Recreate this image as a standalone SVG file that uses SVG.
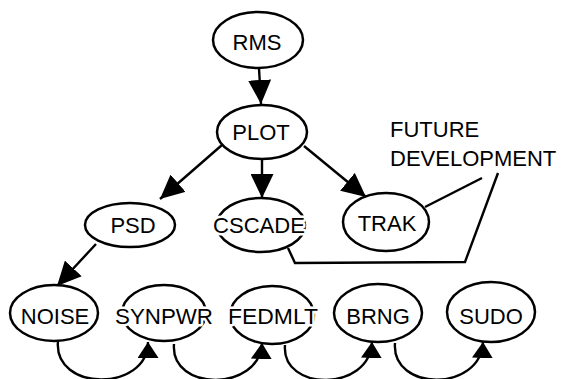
<svg xmlns="http://www.w3.org/2000/svg" width="564" height="379" viewBox="0 0 564 379">
<style>
.n ellipse{fill:#fff;stroke:#000;stroke-width:2.5}
.n text{font-family:"Liberation Sans",Arial,sans-serif;font-size:22px;text-anchor:middle;fill:#000;stroke:#fff;stroke-width:5;paint-order:stroke;stroke-linejoin:round}
.c path{fill:none;stroke:#000;stroke-width:2.4}
.a{marker-end:url(#ah)}
.b{marker-end:url(#ah2)}
.note{font-family:"Liberation Sans",Arial,sans-serif;font-size:22px;fill:#000}
</style>
<defs>
<marker id="ah" viewBox="0 0 24 23" markerWidth="24" markerHeight="23" refX="24" refY="11.5" orient="auto" markerUnits="userSpaceOnUse"><path d="M0,0 L24,11.5 L0,23 z" fill="#000"/></marker>
<marker id="ah2" viewBox="0 0 16 21" markerWidth="16" markerHeight="21" refX="16" refY="10.5" orient="auto" markerUnits="userSpaceOnUse"><path d="M0,0 L16,10.5 L0,21 z" fill="#000"/></marker>
</defs>
<rect width="564" height="379" fill="#fff"/>
<g class="c" id="connectors">
<path class="a" d="M259,68 L261,104"/>
<path class="a" d="M222,145 L160,199"/>
<path class="a" d="M262,159 L262,198"/>
<path class="a" d="M304,146 L366,197"/>
<path class="a" d="M96,244 L57,286"/>
<path class="b" d="M58,341 C53,392 148,392 148,342"/>
<path class="b" d="M174,344 C170,392 260,392 262,343"/>
<path class="b" d="M285,345 C281,392 370,392 372,342"/>
<path class="b" d="M395,343 C391,392 481,392 483,342"/>
<path d="M425,207 L482,178"/>
<path d="M498,173 L465,262 L295,263 L288,248"/>
</g>
<g class="n" id="RMS"><ellipse cx="258" cy="40" rx="45" ry="28"/><text x="257" y="50">RMS</text></g>
<g class="n" id="PLOT"><ellipse cx="262" cy="132" rx="45" ry="27"/><text x="261" y="140">PLOT</text></g>
<g class="n" id="PSD"><ellipse cx="130" cy="225" rx="45" ry="22"/><text x="133" y="233">PSD</text></g>
<g class="n" id="CSCADE"><ellipse cx="261" cy="225" rx="44" ry="27"/><text x="259" y="233" textLength="92" lengthAdjust="spacingAndGlyphs">CSCADE</text></g>
<g class="n" id="TRAK"><ellipse cx="386" cy="222" rx="43" ry="29"/><text x="387" y="231">TRAK</text></g>
<g class="n" id="NOISE"><ellipse cx="54" cy="313" rx="44" ry="28"/><text x="55" y="324">NOISE</text></g>
<g class="n" id="SYNPWR"><ellipse cx="164" cy="313" rx="42" ry="28"/><text x="164" y="324" textLength="98" lengthAdjust="spacingAndGlyphs">SYNPWR</text></g>
<g class="n" id="FEDMLT"><ellipse cx="272" cy="315" rx="42" ry="29"/><text x="273" y="324" textLength="90" lengthAdjust="spacingAndGlyphs">FEDMLT</text></g>
<g class="n" id="BRNG"><ellipse cx="378" cy="313" rx="44" ry="29"/><text x="378" y="324">BRNG</text></g>
<g class="n" id="SUDO"><ellipse cx="491" cy="312" rx="44" ry="30"/><text x="491" y="324">SUDO</text></g>
<g id="note"><text class="note" x="390" y="137">FUTURE</text><text class="note" x="390" y="166">DEVELOPMENT</text></g>
</svg>
